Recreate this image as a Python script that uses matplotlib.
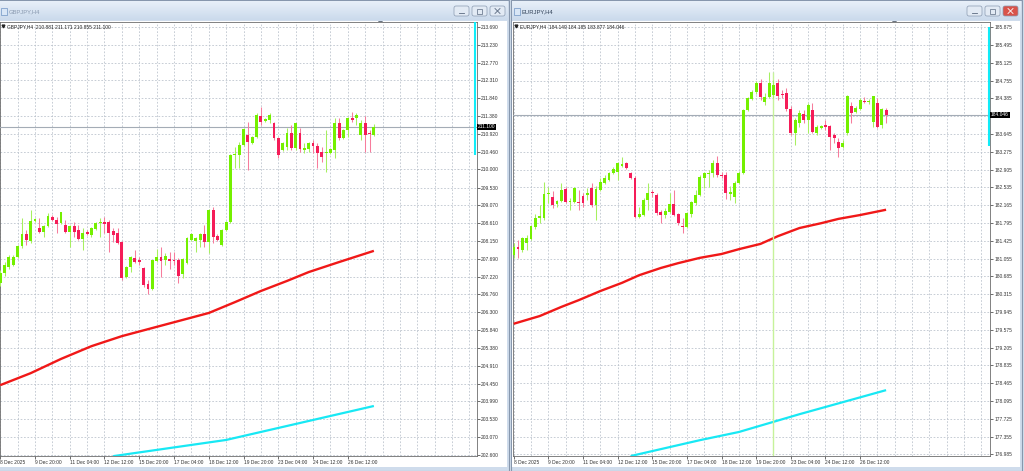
import matplotlib
matplotlib.use("Agg")
import matplotlib.pyplot as plt
from matplotlib.patches import Rectangle, FancyBboxPatch
from matplotlib.colors import LinearSegmentedColormap
import numpy as np

plt.rcParams['font.family'] = ['Liberation Sans', 'DejaVu Sans']

# ---------------- DATA ----------------
date_bars = [0, 8, 16, 24, 32, 40, 48, 56, 64, 72, 80]
date_labels = ["8 Dec 2025", "9 Dec 20:00", "11 Dec 04:00", "12 Dec 12:00", "15 Dec 20:00",
               "17 Dec 04:00", "18 Dec 12:00", "19 Dec 20:00", "23 Dec 04:00", "24 Dec 12:00",
               "26 Dec 12:00"]

gbp_open = [207.06, 207.32, 207.47, 207.52, 207.73, 208.02, 208.33, 208.15, 208.66, 208.48,
            208.38, 208.53, 208.77, 208.69, 208.61, 208.56, 208.38, 208.53, 208.43, 208.20,
            208.38, 208.30, 208.46, 208.61, 208.64, 208.64, 208.40, 208.35, 208.12, 207.21,
            207.47, 207.71, 207.65, 207.45, 207.03, 206.90, 207.63, 207.73, 207.65, 207.68,
            207.65, 207.65, 207.29, 207.58, 208.17, 208.15, 208.17, 208.33, 208.12, 208.95,
            208.28, 208.04, 208.43, 208.64, 210.37, 210.37, 210.63, 210.89, 210.69, 210.84,
            211.38, 211.26, 211.28, 211.20, 210.81, 210.50, 210.58, 210.94, 210.56, 210.94,
            210.50, 210.53, 210.69, 210.61, 210.45, 210.43, 210.43, 210.50, 211.20, 210.81,
            211.02, 211.33, 211.33, 210.89, 211.20, 210.94, 210.881]
gbp_high = [207.39, 207.60, 207.78, 207.78, 208.04, 208.74, 208.43, 208.95, 208.74, 208.74,
            208.56, 208.87, 208.82, 208.77, 208.90, 208.69, 208.56, 208.64, 208.56, 208.48,
            208.43, 208.51, 208.64, 208.74, 208.77, 208.69, 208.48, 208.48, 208.15, 207.50,
            207.76, 207.91, 207.73, 207.47, 207.14, 207.65, 207.94, 207.99, 207.83, 207.86,
            207.86, 207.71, 207.71, 208.25, 208.35, 208.25, 208.35, 208.56, 208.97, 209.03,
            208.33, 208.46, 208.66, 210.40, 210.58, 210.71, 211.07, 211.23, 210.87, 211.46,
            211.62, 211.33, 211.46, 211.23, 210.84, 210.71, 211.07, 211.15, 211.20, 211.07,
            210.69, 210.71, 210.76, 210.69, 210.58, 211.02, 210.56, 211.33, 211.33, 211.05,
            211.36, 211.49, 211.46, 211.28, 211.38, 211.02, 211.171]
gbp_low = [206.98, 207.24, 207.42, 207.50, 207.71, 207.96, 208.04, 208.09, 208.64, 208.35,
           208.25, 208.51, 208.66, 208.35, 208.59, 208.35, 207.99, 208.25, 208.17, 207.91,
           208.30, 208.25, 208.43, 208.25, 208.35, 207.86, 208.12, 208.07, 207.14, 207.19,
           207.34, 207.58, 207.52, 206.95, 206.77, 206.88, 207.60, 207.21, 207.52, 207.42,
           207.52, 207.06, 207.19, 207.55, 208.15, 207.86, 207.99, 207.99, 207.83, 208.09,
           208.15, 208.02, 208.41, 208.61, 210.04, 210.04, 210.61, 209.99, 210.66, 210.81,
           211.15, 211.23, 211.20, 210.76, 210.30, 210.48, 210.50, 210.50, 210.50, 210.45,
           210.43, 210.45, 210.43, 210.04, 210.19, 209.93, 210.40, 210.30, 210.76, 210.79,
           210.84, 211.23, 211.15, 210.76, 210.45, 210.45, 210.855]
gbp_close = [207.32, 207.52, 207.73, 207.73, 208.02, 208.33, 208.17, 208.66, 208.72, 208.38,
             208.53, 208.79, 208.69, 208.59, 208.90, 208.38, 208.53, 208.38, 208.20, 208.35,
             208.33, 208.48, 208.61, 208.64, 208.59, 208.35, 208.30, 208.09, 207.19, 207.47,
             207.73, 207.60, 207.60, 207.00, 206.90, 207.65, 207.73, 207.63, 207.76, 207.63,
             207.63, 207.24, 207.68, 208.22, 208.33, 208.22, 208.33, 208.12, 208.95, 208.25,
             208.17, 208.43, 208.64, 210.37, 210.40, 210.63, 211.05, 210.71, 210.84, 211.41,
             211.23, 211.31, 211.41, 210.81, 210.37, 210.69, 210.94, 210.56, 211.20, 210.53,
             210.56, 210.69, 210.61, 210.43, 210.32, 210.45, 210.53, 211.20, 210.81, 211.02,
             211.33, 211.28, 211.41, 211.20, 210.89, 210.92, 211.100]

gbp_red_ma_bars = [0, 7, 14, 21, 28, 35, 41, 48, 54, 60, 66, 71, 78, 86]
gbp_red_ma = [204.41, 204.72, 205.09, 205.42, 205.68, 205.89, 206.07, 206.28, 206.56, 206.85,
              207.11, 207.34, 207.60, 207.89]
gbp_cyan_ma_bars = [26, 39, 52, 69, 86]
gbp_cyan_ma = [202.57, 202.78, 202.99, 203.43, 203.87]

gbp_price_ticks = [213.690, 213.230, 212.770, 212.310, 211.840, 211.380, 210.920, 210.460,
                   210.000, 209.530, 209.070, 208.610, 208.150, 207.690, 207.220, 206.760,
                   206.300, 205.840, 205.380, 204.910, 204.450, 203.990, 203.530, 203.070,
                   202.600]
gbp_price_labels = ["213.690", "213.230", "212.770", "212.310", "211.840", "211.380", "210.920",
                    "210.460", "210.000", "209.530", "209.070", "208.610", "208.150", "207.690",
                    "207.220", "206.760", "206.300", "205.840", "205.380", "204.910", "204.450",
                    "203.990", "203.530", "203.070", "202.600"]

eur_open = [181.13, 181.30, 181.23, 181.38, 181.46, 181.71, 181.90, 181.90, 182.40, 182.33,
            182.19, 182.25, 182.50, 182.23, 182.23, 182.23, 182.36, 182.38, 182.52, 182.17,
            182.48, 182.63, 182.69, 182.83, 182.85, 182.98, 183.04, 182.83, 182.73, 181.92,
            181.96, 182.27, 182.44, 182.38, 182.02, 181.96, 182.02, 182.19, 181.98, 181.73,
            181.71, 181.98, 182.21, 182.38, 182.73, 182.81, 182.83, 183.04, 182.79, 182.79,
            182.40, 182.33, 182.63, 182.83, 184.14, 184.37, 184.52, 184.70, 184.31, 184.41,
            184.46, 184.70, 184.48, 184.50, 184.16, 183.67, 183.87, 184.06, 183.94, 184.14,
            183.67, 183.77, 183.83, 183.81, 183.62, 183.48, 183.37, 183.67, 184.23, 184.10,
            184.16, 184.33, 184.31, 183.89, 184.29, 183.83, 184.149]
eur_high = [181.38, 181.44, 181.50, 181.55, 181.75, 181.98, 182.17, 182.65, 182.54, 182.46,
            182.27, 182.63, 182.54, 182.31, 182.54, 182.48, 182.42, 182.52, 182.63, 182.56,
            182.73, 182.79, 182.85, 182.96, 183.06, 183.17, 183.06, 182.85, 182.77, 182.13,
            182.31, 182.63, 182.48, 182.42, 182.07, 182.11, 182.42, 182.48, 182.00, 181.90,
            182.02, 182.25, 182.48, 182.79, 182.85, 182.90, 183.10, 183.19, 182.85, 182.85,
            182.56, 182.67, 182.875, 184.17, 184.41, 184.56, 184.75, 184.79, 184.50, 184.93,
            184.77, 184.79, 184.56, 184.60, 184.23, 183.98, 184.14, 184.14, 184.29, 184.29,
            183.83, 183.83, 183.94, 183.83, 183.67, 183.56, 183.52, 184.46, 184.31, 184.23,
            184.39, 184.41, 184.37, 184.43, 184.39, 184.19, 184.185]
eur_low = [181.07, 181.07, 181.19, 181.23, 181.44, 181.67, 181.79, 181.86, 182.21, 182.11,
           182.13, 182.23, 182.21, 182.07, 182.21, 182.07, 182.13, 182.27, 182.13, 181.86,
           182.46, 182.61, 182.67, 182.81, 182.69, 182.96, 182.92, 182.71, 181.90, 181.90,
           181.94, 182.07, 182.33, 181.96, 181.79, 181.90, 182.00, 181.94, 181.75, 181.59,
           181.69, 181.92, 182.17, 182.36, 182.52, 182.54, 182.75, 182.75, 182.73, 182.29,
           182.27, 182.21, 182.61, 182.81, 184.12, 184.35, 184.48, 184.35, 184.25, 184.39,
           184.39, 184.35, 184.39, 184.12, 183.62, 183.42, 183.79, 183.87, 183.67, 183.67,
           183.62, 183.75, 183.73, 183.31, 183.46, 183.17, 183.35, 183.62, 183.87, 184.08,
           184.14, 184.29, 184.27, 183.79, 183.77, 183.77, 183.877]
eur_close = [181.30, 181.25, 181.48, 181.48, 181.73, 181.90, 181.94, 182.40, 182.42, 182.17,
             182.25, 182.48, 182.23, 182.25, 182.52, 182.21, 182.21, 182.42, 182.17, 182.50,
             182.65, 182.73, 182.83, 182.92, 183.04, 183.02, 182.94, 182.73, 181.92, 181.98,
             182.27, 182.42, 182.42, 182.00, 181.96, 182.04, 182.19, 181.96, 181.79, 181.71,
             182.00, 182.23, 182.38, 182.75, 182.83, 182.83, 183.04, 182.79, 182.77, 182.42,
             182.44, 182.63, 182.83, 184.14, 184.39, 184.52, 184.70, 184.41, 184.41, 184.70,
             184.66, 184.43, 184.46, 184.16, 183.67, 183.94, 184.08, 183.94, 184.25, 183.69,
             183.79, 183.81, 183.79, 183.58, 183.56, 183.35, 183.46, 184.43, 184.08, 184.19,
             184.35, 184.31, 184.33, 184.43, 183.79, 184.16, 184.046]

eur_red_ma_bars = [0, 6, 11, 15, 20, 25, 29, 34, 38, 43, 48, 52, 57, 61, 66, 71, 75, 80, 86]
eur_red_ma = [179.70, 179.86, 180.05, 180.19, 180.38, 180.55, 180.71, 180.86, 180.96, 181.07,
              181.15, 181.25, 181.36, 181.52, 181.69, 181.79, 181.88, 181.96, 182.07]
eur_cyan_ma_bars = [27, 43, 52, 66, 86]
eur_cyan_ma = [176.95, 177.28, 177.45, 177.82, 178.32]
eur_vline_bar = 60
eur_vline_top = 184.93

eur_price_ticks = [185.875, 185.495, 185.125, 184.755, 184.385, 184.015, 183.645, 183.275,
                   182.905, 182.535, 182.165, 181.795, 181.425, 181.055, 180.685, 180.315,
                   179.945, 179.575, 179.205, 178.835, 178.465, 178.095, 177.725, 177.355,
                   176.985]
eur_price_labels = ["185.875", "185.495", "185.125", "184.755", "184.385", "", "183.645",
                    "183.275", "182.905", "182.535", "182.165", "181.795", "181.425", "181.055",
                    "180.685", "180.315", "179.945", "179.575", "179.205", "178.835", "178.465",
                    "178.095", "177.725", "177.355", "176.985"]

# ---------------- STYLE ----------------
W, H, DPI = 1024, 471, 100
BULL = '#74f000'
BEAR = '#f51c58'
FS = 3.5

fig = plt.figure(figsize=(W / DPI, H / DPI), dpi=DPI)
fig.patch.set_facecolor('#d3dfed')

bg = fig.add_axes([0, 0, 1, 1])
bg.set_xlim(0, W)
bg.set_ylim(H, 0)
bg.axis('off')

title_cmap = LinearSegmentedColormap.from_list('tb', ['#e8f0f9', '#cbdaec'])


def rect(x0, y0, x1, y1, fc, ec='none', lw=0.0, z=1):
    bg.add_patch(Rectangle((x0, y0), x1 - x0, y1 - y0, facecolor=fc, edgecolor=ec,
                           linewidth=lw, zorder=z))


def window(x0, x1, title, active):
    rect(x0, 0, x1, 471, '#cfdcec', '#8797ad', 0.8, 1)
    bg.imshow(np.linspace(0, 1, 20).reshape(-1, 1), extent=[x0 + 1, x1 - 1, 20, 1],
              cmap=title_cmap, aspect='auto', zorder=2)
    rect(x0 + 1, 20.5, x1 - 2, 466.5, 'white', 'none', 0, 2)
    rect(x0 + 3, 8, x0 + 9, 15, '#d8e6f6', '#6f94c4', 0.5, 3)
    bg.text(x0 + 11, 12, title, fontsize=4.2, va='center', ha='left',
            color='#33445a' if active else '#8a9ab0', zorder=3)
    bx = [x1 - 55, x1 - 37, x1 - 19]
    for i, b in enumerate(bx):
        fc = '#d9534a' if (active and i == 2) else '#e2eaf4'
        bg.add_patch(FancyBboxPatch((b, 6), 15, 10, boxstyle='round,pad=0,rounding_size=2',
                                    facecolor=fc, edgecolor='#8a9ab0', linewidth=0.5, zorder=3))
    bg.plot([bx[0] + 5, bx[0] + 10], [12.5, 12.5], color='#5a6a80', lw=0.6, zorder=4)
    bg.add_patch(Rectangle((bx[1] + 5, 9), 5, 4.5, facecolor='none', edgecolor='#5a6a80',
                           linewidth=0.5, zorder=4))
    xc = bx[2] + 7.5
    bg.plot([xc - 2.5, xc + 2.5], [8.5, 13.5], color='white' if active else '#5a6a80', lw=0.6, zorder=4)
    bg.plot([xc - 2.5, xc + 2.5], [13.5, 8.5], color='white' if active else '#5a6a80', lw=0.6, zorder=4)


def chart(px0, px1, o, h, l, c, xlim, ylim, yticks, ylabels, header, red_b, red_v,
          cyan_b, cyan_v, cur, cur_lbl, cyan_bar, shift_px):
    py0, py1 = 21.5, 456.0
    ax = fig.add_axes([px0 / W, 1 - py1 / H, (px1 - px0) / W, (py1 - py0) / H])
    ax.set_facecolor('white')
    ax.set_xlim(*xlim)
    ax.set_ylim(*ylim)
    o, h, l, c = map(np.asarray, (o, h, l, c))
    x = np.arange(len(o))
    up = c >= o
    ppx = (ylim[1] - ylim[0]) / (py1 - py0)
    ax.vlines(x, l, h, colors=np.where(up, '#a6f060', '#f77c9c'), linewidth=0.75, zorder=4)
    bot = np.minimum(o, c)
    hh = np.maximum(np.abs(c - o), ppx * 1.0)
    ax.bar(x, hh, bottom=bot, width=0.66, color=np.where(up, BULL, BEAR), linewidth=0, zorder=5)
    ax.plot(red_b, red_v, color='#f01818', lw=1.7, zorder=3, solid_capstyle='butt',
            solid_joinstyle='round')
    ax.plot(cyan_b, cyan_v, color='#18e8f4', lw=1.6, zorder=3, solid_capstyle='butt',
            solid_joinstyle='round')
    ax.axhline(cur, color='#a4acb6', lw=0.8, zorder=3.5)

    ax.yaxis.tick_right()
    ax.set_yticks(yticks)
    ax.set_yticklabels(ylabels)
    ax.set_xticks(date_bars)
    ax.set_xticklabels(date_labels)
    for t in ax.get_xticklabels():
        t.set_ha('left')
    ax.set_xticks(np.arange(0, 112, 4), minor=True)
    ax.tick_params(axis='both', which='major', length=2, width=0.5, pad=1.2, labelsize=FS,
                   colors='#333333')
    ax.tick_params(axis='x', which='minor', length=0)
    ax.grid(True, which='both', color='#b8c0ca', linestyle=(0, (2.2, 2.2)), linewidth=0.55)
    ax.set_axisbelow(True)
    for s in ax.spines.values():
        s.set_color('#6c6c6c')
        s.set_linewidth(0.6)

    ax.text(1.0 + 1.0 / (px1 - px0), cur, cur_lbl, transform=ax.get_yaxis_transform(),
            fontsize=FS, color='white', va='center', ha='left', zorder=10, clip_on=False,
            bbox=dict(facecolor='black', edgecolor='none', pad=0.5))
    ax.plot([1 - 1.2 / (px1 - px0)] * 2, cyan_bar, transform=ax.get_yaxis_transform(),
            color='#10ecf8', lw=1.5, zorder=6, clip_on=False, solid_capstyle='butt')
    ax.text(7.0 / (px1 - px0), 1 - 4.8 / (py1 - py0), header, transform=ax.transAxes,
            fontsize=FS, va='center', ha='left', color='#222222', zorder=10)
    ax.plot([3.0 / (px1 - px0)], [1 - 4.8 / (py1 - py0)], marker='v', ms=2.0, color='#222222',
            transform=ax.transAxes, zorder=10, clip_on=False)
    bg.plot([shift_px], [22.6], marker='v', ms=2.6, color='#6c7682', zorder=20)
    return ax


window(-2, 509, 'GBPJPY,H4', False)
window(511, 1022, 'EURJPY,H4', True)

gbp_ax = chart(0, 476.5, gbp_open, gbp_high, gbp_low, gbp_close,
               (-0.05, 109.62), (202.574, 213.833), gbp_price_ticks, gbp_price_labels,
               'GBPJPY,H4  210.881 211.171 210.855 211.100',
               gbp_red_ma_bars, gbp_red_ma, gbp_cyan_ma_bars, gbp_cyan_ma,
               211.100, '211.100', (210.37, 213.833), 380)

eur_ax = chart(513, 990, eur_open, eur_high, eur_low, eur_close,
               (-0.16, 110.0), (176.951, 185.983), eur_price_ticks, eur_price_labels,
               'EURJPY,H4  184.149 184.185 183.877 184.046',
               eur_red_ma_bars, eur_red_ma, eur_cyan_ma_bars, eur_cyan_ma,
               184.046, '184.046', (183.395, 185.87), 894)
eur_ax.vlines([eur_vline_bar], 176.951, eur_vline_top, colors='#c6f29a', linewidth=1.0, zorder=3.8)

fig.savefig('out.png', dpi=DPI, facecolor=fig.get_facecolor())
